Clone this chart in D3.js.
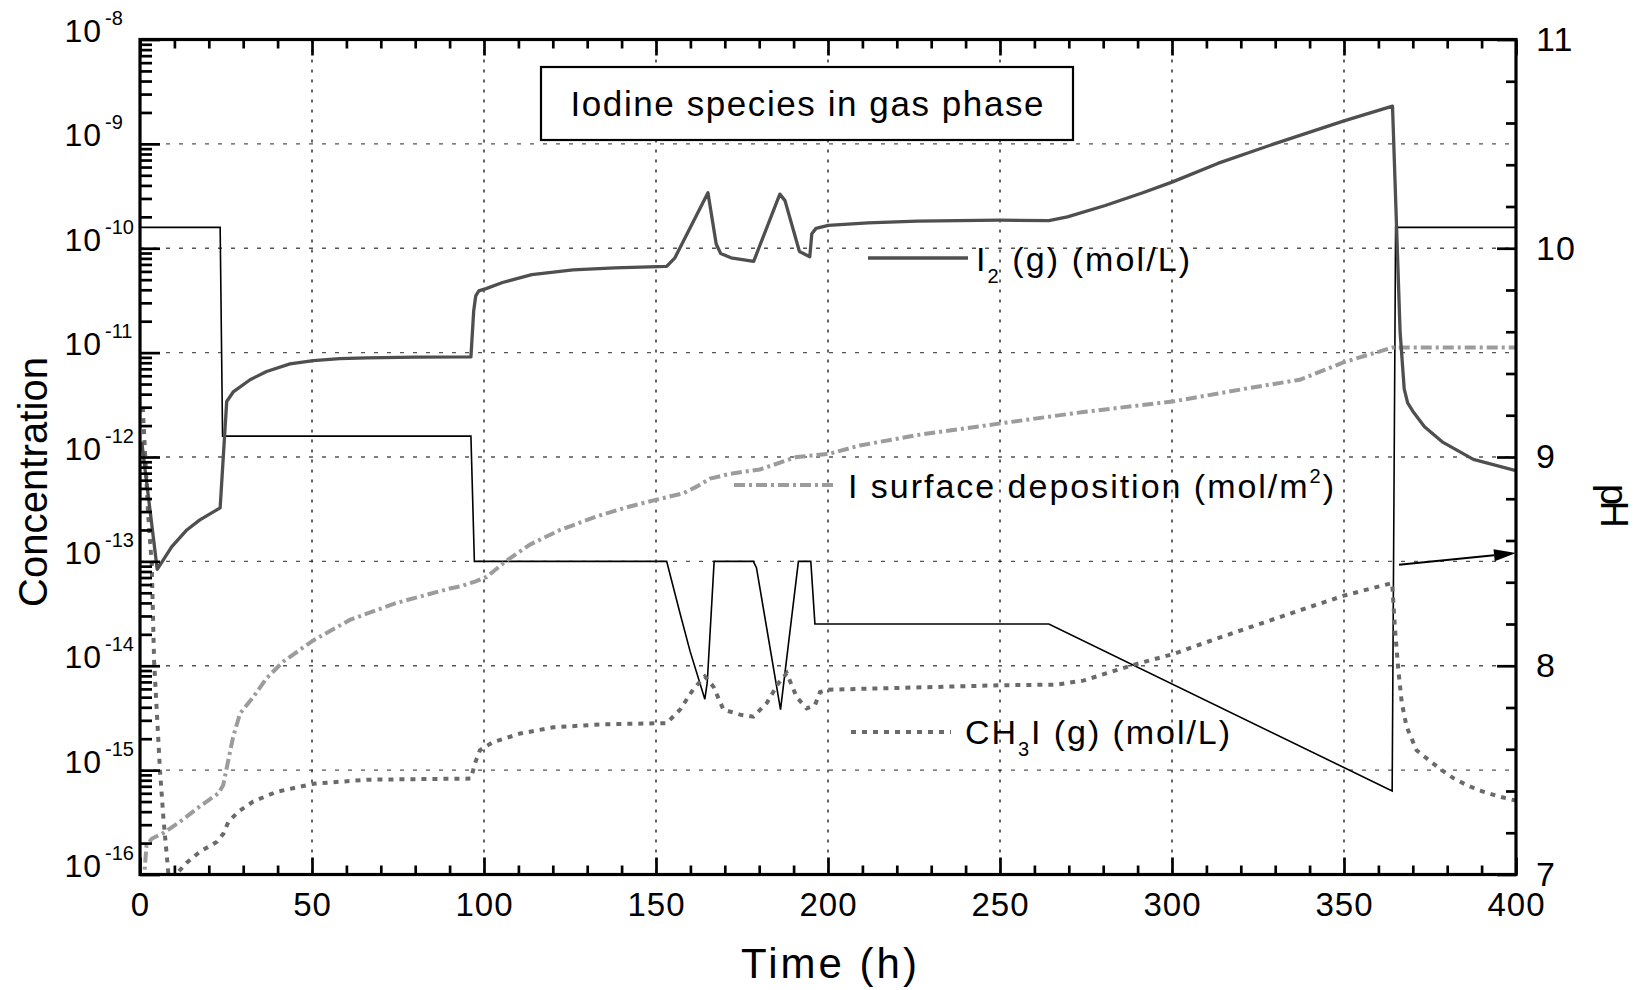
<!DOCTYPE html>
<html><head><meta charset="utf-8">
<script src="https://cdn.jsdelivr.net/npm/d3@7"></script>
<style>
html,body{margin:0;padding:0;background:#fff;}
svg{display:block;}
</style></head><body>
<svg id="chart" width="1637" height="990"></svg>
<script>
// ---------------- DATA ----------------
const xMajorTicks = [0, 50, 100, 150, 200, 250, 300, 350, 400];
const yDecadeTicks = [1e-16, 1e-15, 1e-14, 1e-13, 1e-12, 1e-11, 1e-10, 1e-9, 1e-8];
const phTicks = [7, 8, 9, 10, 11];

// [time (h), concentration mol/L]
const i2Gas = [
  [0.5,1.4e-12],[5.0,8.4e-14],[9.2,1.38e-13],[13.6,2.0e-13],[17.4,2.5e-13],[23.3,3.25e-13],
  [25.2,3.4e-12],[27.1,4.2e-12],[32,5.5e-12],[36.8,6.6e-12],[43.6,7.8e-12],[50.4,8.4e-12],
  [58,8.75e-12],[65.9,8.9e-12],[80,9.05e-12],[96.2,9.1e-12],[97.0,2.5e-11],[97.6,3.5e-11],
  [98.5,3.9e-11],[100.6,4.1e-11],[105.4,4.7e-11],[113.9,5.6e-11],[125.9,6.2e-11],[138,6.5e-11],
  [153.1,6.7e-11],[155.5,8.1e-11],[165.1,3.4e-10],[167.5,1.1e-10],[168.8,8.9e-11],[171.8,8.1e-11],
  [178.4,7.5e-11],[186,3.3e-10],[187.5,2.86e-10],[191.7,9.3e-11],[194.7,8.3e-11],[195.3,1.38e-10],
  [196.5,1.55e-10],[200.1,1.66e-10],[211.6,1.75e-10],[226,1.82e-10],[250,1.86e-10],[264.2,1.84e-10],
  [269.6,2.0e-10],[280.6,2.57e-10],[291.5,3.4e-10],[300,4.3e-10],[313.3,6.5e-10],[329.7,1.0e-9],
  [350,1.66e-9],[364.1,2.3e-9],[366.3,1.6e-11],[367.5,4.5e-12],[368.5,3.3e-12],[370,2.75e-12],
  [373.4,1.95e-12],[378.8,1.38e-12],[387.6,9.5e-13],[400,7.4e-13]
];

// [time (h), pH]
const phSeries = [
  [0,10.1],[23.3,10.1],[24,9.1],[96.2,9.1],[97.2,8.5],[153.1,8.5],[157,8.25],[159.9,8.07],
  [164.2,7.84],[164.9,7.92],[166.9,8.5],[178.3,8.5],[179.2,8.47],[186.2,7.79],[191.4,8.5],
  [195,8.5],[196.2,8.2],[264.2,8.2],[364,7.4],[365,10.1],[400,10.1]
];

// [time (h), mol/m2]
const surfaceDep = [
  [1.0,8e-17],[1.9,1.9e-16],[3.4,2.2e-16],[6.8,2.5e-16],[11.6,3.2e-16],[17.4,4.5e-16],[22.8,6.0e-16],
  [24.2,7.2e-16],[25.7,1.26e-15],[27.1,2.1e-15],[29.1,3.5e-15],[32.9,5.0e-15],[36.8,7.6e-15],
  [41.7,1.1e-14],[50.4,1.75e-14],[61,2.75e-14],[74.6,4.0e-14],[81.4,4.6e-14],[90.1,5.5e-14],
  [93,5.75e-14],[97.4,6.4e-14],[100.8,7.1e-14],[106.6,1.02e-13],[113.4,1.45e-13],[122.1,2.0e-13],
  [132.8,2.7e-13],[141.5,3.3e-13],[150.2,3.9e-13],[158,4.5e-13],[161.8,5.2e-13],[165.7,6.2e-13],
  [171.5,6.9e-13],[180.2,7.6e-13],[190.9,1.0e-12],[200.2,1.07e-12],[209.3,1.29e-12],[225.8,1.62e-12],
  [250.2,2.1e-12],[274.2,2.7e-12],[300.2,3.4e-12],[322.7,4.6e-12],[337.2,5.5e-12],[350,8.1e-12],
  [364.1,1.12e-11],[400,1.12e-11]
];

// [time (h), concentration mol/L]
const ch3iGas = [
  [0.8,3.0e-12],[2.4,2.7e-13],[3.4,9.5e-14],[4.1,1.1e-14],[4.8,4.1e-15],[5.8,1.0e-15],[6.8,3.5e-16],
  [7.8,1.5e-16],[8.5,8e-17],[9.5,7e-17],[10.7,1.02e-16],[13.6,1.3e-16],[17.4,1.65e-16],[22.3,2.05e-16],
  [24.2,2.45e-16],[25.7,3.2e-16],[28.6,4.0e-16],[32.9,5.0e-16],[39.7,6.2e-16],[50.4,7.4e-16],
  [65.9,8.1e-16],[96.2,8.3e-16],[97.4,1.17e-15],[98.8,1.55e-15],[102.7,1.86e-15],[110.5,2.24e-15],
  [120.1,2.57e-15],[134.7,2.75e-15],[153.1,2.82e-15],[157,3.8e-15],[160.9,6.0e-15],[164.2,7.9e-15],
  [166.7,6.3e-15],[169.6,3.8e-15],[174.4,3.4e-15],[178.3,3.25e-15],[182.2,4.4e-15],[185.6,6.8e-15],
  [188,8.5e-15],[190.9,5.0e-15],[193.8,3.9e-15],[196.2,4.2e-15],[197.7,5.6e-15],[200.2,5.9e-15],
  [209.3,6.0e-15],[250.2,6.5e-15],[266.5,6.6e-15],[274.2,7.2e-15],[288.8,1.02e-14],[300.2,1.29e-14],
  [313,1.82e-14],[337.2,3.4e-14],[350,4.7e-14],[364,6.2e-14],[364.8,2.3e-14],[365.8,9.1e-15],
  [366.8,4.4e-15],[368.2,2.6e-15],[371.1,1.55e-15],[374.5,1.26e-15],[378.4,1.0e-15],[382,8.3e-16],
  [386,7.1e-16],[390,6.3e-16],[395,5.6e-16],[400,5.1e-16]
];

// annotation arrow: from concentration point to pH axis
const arrowFrom = [366.0, 9.3e-14];
const arrowToPH = [400, 8.54];

const titleText = "Iodine species in gas phase";

// ---------------- CHART ----------------
const FONT = '"Liberation Sans", Arial, Helvetica, sans-serif';
const svg = d3.select("#chart").attr("font-family", FONT);
const M = {l: 140, r: 1516, t: 39.5, b: 874.5};

const x = d3.scaleLinear().domain([0, 400]).range([M.l, M.r]);
const y = d3.scaleLog().domain([1e-16, 1e-8]).range([M.b, M.t]);
const yPH = d3.scaleLinear().domain([7, 11]).range([M.b, M.t]);

svg.append("defs").append("clipPath").attr("id", "plotClip")
  .append("rect").attr("x", M.l).attr("y", M.t).attr("width", M.r - M.l).attr("height", M.b - M.t);

// grid
const grid = svg.append("g");
grid.selectAll("line.h").data(yDecadeTicks.slice(1, -1)).join("line").attr("class", "h")
  .attr("x1", M.l).attr("x2", M.r).attr("y1", d => y(d)).attr("y2", d => y(d))
  .attr("stroke", "#555").attr("stroke-width", 1.4).attr("stroke-dasharray", "4,9");
grid.selectAll("line.v").data(xMajorTicks.slice(1, -1)).join("line").attr("class", "v")
  .attr("y1", M.t).attr("y2", M.b).attr("x1", d => x(d)).attr("x2", d => x(d))
  .attr("stroke", "#222").attr("stroke-width", 1.4).attr("stroke-dasharray", "3,7");

// series
const plot = svg.append("g").attr("clip-path", "url(#plotClip)");
const lineC = d3.line().x(d => x(d[0])).y(d => y(d[1]));
const linePH = d3.line().x(d => x(d[0])).y(d => yPH(d[1]));

plot.append("path").datum(phSeries).attr("d", linePH)
  .attr("fill", "none").attr("stroke", "#000").attr("stroke-width", 1.6);
plot.append("path").datum(surfaceDep).attr("d", lineC)
  .attr("fill", "none").attr("stroke", "#9c9c9c").attr("stroke-width", 4)
  .attr("stroke-dasharray", "11,4,3,4");
plot.append("path").datum(ch3iGas).attr("d", lineC)
  .attr("fill", "none").attr("stroke", "#6a6a6a").attr("stroke-width", 4)
  .attr("stroke-dasharray", "5,6");
plot.append("path").datum(i2Gas).attr("d", lineC)
  .attr("fill", "none").attr("stroke", "#4f4f4f").attr("stroke-width", 3.3)
  .attr("stroke-linejoin", "round");

// arrow annotation
{
  const x1 = x(arrowFrom[0]), y1 = y(arrowFrom[1]);
  const x2 = x(arrowToPH[0]), y2 = yPH(arrowToPH[1]);
  const ang = Math.atan2(y2 - y1, x2 - x1);
  const L = 22, W = 6;
  const bx = x2 - L * Math.cos(ang), by = y2 - L * Math.sin(ang);
  svg.append("line").attr("x1", x1).attr("y1", y1).attr("x2", bx).attr("y2", by)
    .attr("stroke", "#000").attr("stroke-width", 2);
  const px = -Math.sin(ang), py = Math.cos(ang);
  svg.append("path")
    .attr("d", `M${x2},${y2}L${bx + W * px},${by + W * py}L${bx - W * px},${by - W * py}Z`)
    .attr("fill", "#000");
}

// axes
function styleAxis(g) {
  g.select(".domain").remove();
  g.selectAll(".tick line").attr("stroke", "#000").attr("stroke-width", 2.7);
  g.attr("font-family", FONT);
}
const xMinor = d3.range(10, 400, 10).filter(d => d % 50 !== 0);

const bottomAx = svg.append("g").attr("transform", `translate(0,${M.b})`)
  .call(d3.axisBottom(x).tickValues(xMajorTicks).tickSize(-17).tickPadding(18).tickFormat(d3.format("d")))
  .call(styleAxis);
bottomAx.attr("font-size", 33);
bottomAx.selectAll("text").attr("fill", "#000").attr("letter-spacing", 1);
svg.append("g").attr("transform", `translate(0,${M.b})`)
  .call(d3.axisBottom(x).tickValues(xMinor).tickSize(-9).tickFormat(""))
  .call(styleAxis);

svg.append("g").attr("transform", `translate(0,${M.t})`)
  .call(d3.axisTop(x).tickValues(xMajorTicks).tickSize(-16).tickFormat(""))
  .call(styleAxis);
svg.append("g").attr("transform", `translate(0,${M.t})`)
  .call(d3.axisTop(x).tickValues(xMinor).tickSize(-9).tickFormat(""))
  .call(styleAxis);

const yMinor = d3.range(-16, -8).flatMap(e => d3.range(2, 10).map(m => m * Math.pow(10, e)));
const leftAx = svg.append("g").attr("transform", `translate(${M.l},0)`)
  .call(d3.axisLeft(y).tickValues(yDecadeTicks).tickSize(-20).tickFormat(""))
  .call(styleAxis);
leftAx.selectAll(".tick").each(function(d) {
  const g = d3.select(this);
  const e = Math.round(Math.log10(d));
  g.append("text").attr("x", -38).attr("y", 2).attr("text-anchor", "end")
    .attr("font-size", 32).attr("letter-spacing", 1).attr("fill", "#000").text("10");
  g.append("text").attr("x", -35).attr("y", -15).attr("text-anchor", "start")
    .attr("font-size", 20).attr("fill", "#000").text(String(e));
});
svg.append("g").attr("transform", `translate(${M.l},0)`)
  .call(d3.axisLeft(y).tickValues(yMinor).tickSize(-12).tickFormat(""))
  .call(styleAxis);

const phMinor = d3.range(35, 55).filter(v => v % 5 !== 0).map(v => v / 5);
const rightAx = svg.append("g").attr("transform", `translate(${M.r},0)`)
  .call(d3.axisRight(yPH).tickValues(phTicks).tickSize(-19).tickPadding(20).tickFormat(d3.format("d")))
  .call(styleAxis);
rightAx.attr("font-size", 34);
rightAx.selectAll("text").attr("fill", "#000").attr("letter-spacing", 1);
svg.append("g").attr("transform", `translate(${M.r},0)`)
  .call(d3.axisRight(yPH).tickValues(phMinor).tickSize(-10).tickFormat(""))
  .call(styleAxis);

// frame
svg.append("rect").attr("x", M.l).attr("y", M.t).attr("width", M.r - M.l).attr("height", M.b - M.t)
  .attr("fill", "none").attr("stroke", "#000").attr("stroke-width", 3.2);

// axis titles
svg.append("text").attr("x", 829).attr("y", 978).attr("text-anchor", "middle")
  .attr("font-size", 42).attr("textLength", 176).attr("lengthAdjust", "spacing").text("Time (h)");
svg.append("text").attr("transform", "translate(47,482) rotate(-90)").attr("text-anchor", "middle")
  .attr("font-size", 40).attr("textLength", 250).attr("lengthAdjust", "spacing").text("Concentration");
svg.append("text").attr("transform", "translate(1601,506) rotate(90)").attr("text-anchor", "middle")
  .attr("font-size", 38).attr("textLength", 44).attr("lengthAdjust", "spacing").text("pH");

// title box
svg.append("rect").attr("x", 541).attr("y", 67).attr("width", 532).attr("height", 73)
  .attr("fill", "#fff").attr("stroke", "#000").attr("stroke-width", 2.2);
svg.append("text").attr("x", 807).attr("y", 116).attr("text-anchor", "middle")
  .attr("font-size", 35).attr("textLength", 473).attr("lengthAdjust", "spacing").text(titleText);

// legends
function legendLine(x1, x2, yy, stroke, w, dash) {
  svg.append("line").attr("x1", x1).attr("x2", x2).attr("y1", yy).attr("y2", yy)
    .attr("stroke", stroke).attr("stroke-width", w).attr("stroke-dasharray", dash);
}
legendLine(868, 968, 258, "#4f4f4f", 3.3, null);
legendLine(734, 836, 485, "#9c9c9c", 4, "11,4,3,4");
legendLine(851, 951, 732, "#6a6a6a", 4, "5,6");

{
  const t = svg.append("text").attr("x", 976).attr("y", 271).attr("font-size", 34)
    .attr("textLength", 214).attr("lengthAdjust", "spacing");
  t.append("tspan").text("I");
  t.append("tspan").attr("font-size", 20).attr("dy", 12).text("2");
  t.append("tspan").attr("dy", -12).text(" (g) (mol/L)");
}
{
  const t = svg.append("text").attr("x", 848).attr("y", 498).attr("font-size", 34)
    .attr("textLength", 486).attr("lengthAdjust", "spacing");
  t.append("tspan").text("I surface deposition (mol/m");
  t.append("tspan").attr("font-size", 20).attr("dy", -15).text("2");
  t.append("tspan").attr("dy", 15).text(")");
}
{
  const t = svg.append("text").attr("x", 965).attr("y", 744).attr("font-size", 34)
    .attr("textLength", 265).attr("lengthAdjust", "spacing");
  t.append("tspan").text("CH");
  t.append("tspan").attr("font-size", 20).attr("dy", 12).text("3");
  t.append("tspan").attr("dy", -12).text("I (g) (mol/L)");
}
</script>
</body></html>
